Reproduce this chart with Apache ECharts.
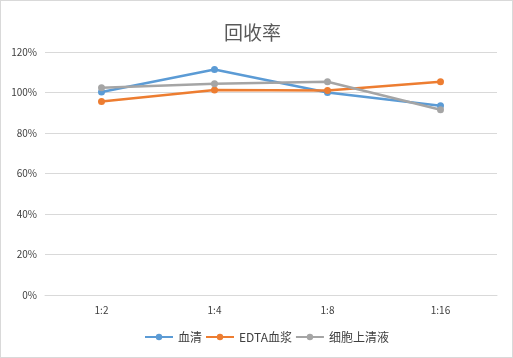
<!DOCTYPE html>
<html><head><meta charset="utf-8">
<script src="https://cdn.jsdelivr.net/npm/echarts@6/dist/echarts.min.js"></script>
<style>html,body{margin:0;padding:0;background:#fff}#c{width:513px;height:358px;box-sizing:border-box;border:1px solid #d9d9d9}</style>
</head><body><div id="c"></div>
<script>
const categories = ['1:2', '1:4', '1:8', '1:16'];
const seriesNames = ['血清', 'EDTA血浆', '细胞上清液'];
const serum = [100.2, 111.4, 100.0, 93.5];
const edta = [95.6, 101.2, 101.0, 105.3];
const supernatant = [102.4, 104.3, 105.3, 91.5];
const yTicks = [0, 20, 40, 60, 80, 100, 120];

const colors = ['#5B9BD5', '#ED7D31', '#A5A5A5'];
const values = [serum, edta, supernatant];
const chart = echarts.init(document.getElementById('c'));
const font = '"Microsoft YaHei","Noto Sans CJK SC",sans-serif';
chart.setOption({
  animation: false,
  title: { text: '回收率', left: 218, top: 17, textStyle: { fontSize: 19, fontWeight: 'normal', color: '#595959', fontFamily: font } },
  legend: {
    bottom: 9, left: 138, itemGap: 3, itemWidth: 28, itemHeight: 8,
    textStyle: { fontSize: 12, color: '#404040', fontFamily: font },
    data: seriesNames
  },
  grid: { left: 44, right: 15, top: 51, bottom: 62, containLabel: false },
  xAxis: {
    type: 'category', data: categories, boundaryGap: true,
    axisLine: { show: true, lineStyle: { color: '#d9d9d9' } }, axisTick: { show: false },
    axisLabel: { color: '#404040', fontSize: 10, margin: 10, fontFamily: font }
  },
  yAxis: {
    type: 'value', min: yTicks[0], max: yTicks[yTicks.length - 1], interval: 20,
    axisLine: { show: false }, axisTick: { show: false },
    splitLine: { lineStyle: { color: '#d9d9d9' } },
    axisLabel: { color: '#404040', fontSize: 10, margin: 8, formatter: v => v + '%', fontFamily: font }
  },
  series: seriesNames.map((n, i) => ({
    name: n, type: 'line', data: values[i], symbol: 'circle', symbolSize: 7,
    lineStyle: { width: 2.5, color: colors[i] }, itemStyle: { color: colors[i] }
  }))
});
</script></body></html>
